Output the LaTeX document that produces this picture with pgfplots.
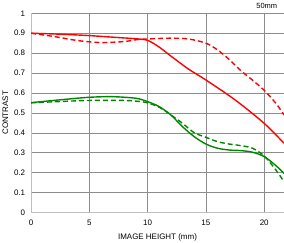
\documentclass[border=0pt]{standalone}
\usepackage{pgfplots}
\pgfplotsset{compat=1.18}
\usepackage{fontspec}
\setmainfont{Liberation Sans}
\definecolor{mtfred}{RGB}{255,0,0}
\definecolor{mtfgreen}{RGB}{0,135,0}
\begin{document}
\fontsize{8}{9}\selectfont
\begin{tikzpicture}[x=1bp,y=1bp]
\useasboundingbox (-31,-30.7) rectangle (253,212.3);
\begin{axis}[
  at={(0,0)}, anchor=south west,
  scale only axis, width=253bp, height=199bp,
  xmin=0, xmax=21.7, ymin=0, ymax=1,
  xtick={0,5,10,15,20}, ytick={0,0.1,...,1},
  yticklabels={0,0.1,0.2,0.3,0.4,0.5,0.6,0.7,0.8,0.9,1},
  axis line style={draw=black!25},
  axis x line*=bottom, axis y line*=left,
  major tick length=0pt,
  grid=major, grid style={draw=black!45, line width=0.4pt},
  tick label style={font=\fontsize{8}{9}\selectfont},
  /pgf/number format/assume math mode=true,
  xticklabel style={yshift=-5bp},
  yticklabel style={xshift=-3bp},
  xlabel={IMAGE HEIGHT (mm)}, ylabel={CONTRAST},
  label style={font=\fontsize{8}{9}\selectfont},
  xlabel style={at={(axis description cs:0.5,0)}, anchor=north, yshift=-19bp},
  ylabel style={at={(axis description cs:0,0.5)}, anchor=south, xshift=0bp, yshift=20bp},
  clip=true,
  every axis plot/.append style={line width=1.4pt, smooth, tension=0.5},
]
% red solid
\addplot[mtfred] coordinates {(0,0.9) (2.5,0.895) (5,0.888) (7.5,0.878) (9,0.872) (10,0.864) (11,0.83) (12,0.785) (13.5,0.72) (15,0.665) (17.5,0.565) (20,0.447) (21.7,0.347)};
% red dashed
\addplot[mtfred, dash pattern=on 5bp off 3bp] coordinates {(0,0.9) (2,0.883) (4,0.863) (6,0.853) (8,0.858) (9,0.867) (10,0.871) (12,0.875) (13.5,0.871) (15,0.85) (16,0.816) (17,0.768) (18,0.712) (19,0.664) (20,0.613) (21,0.548) (21.7,0.489)};
% green solid
\addplot[mtfgreen] coordinates {(0,0.551) (3,0.568) (5,0.578) (7,0.581) (9,0.573) (10,0.556) (11,0.531) (12,0.489) (13,0.43) (14,0.38) (15,0.343) (16,0.322) (17,0.313) (18,0.31) (19,0.302) (20,0.28) (21,0.235) (21.7,0.196)};
% green dashed
\addplot[mtfgreen, dash pattern=on 5bp off 3bp] coordinates {(0,0.55) (3,0.558) (5,0.562) (8,0.562) (9.5,0.556) (10,0.55) (11,0.528) (12,0.489) (13,0.447) (14,0.4) (15,0.377) (16,0.355) (17,0.343) (18,0.335) (19,0.322) (20,0.283) (21,0.213) (21.7,0.154)};
\end{axis}
\node[anchor=east, font=\fontsize{7.5}{9}\selectfont] at (249,206) {50mm};
\end{tikzpicture}
\end{document}
